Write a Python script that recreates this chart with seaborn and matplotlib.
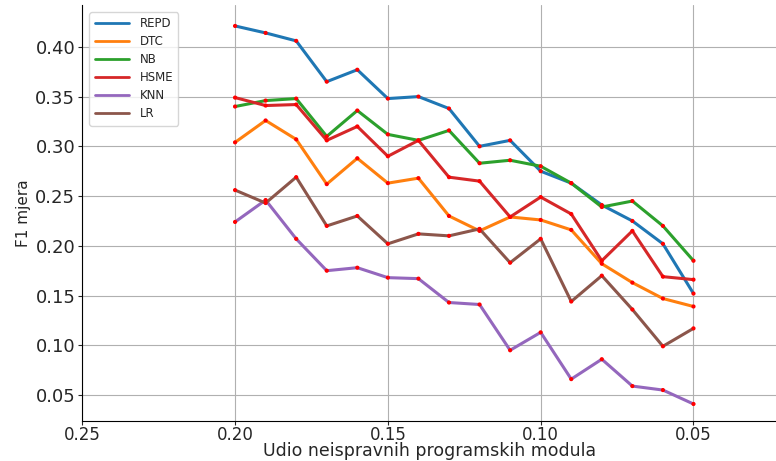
import numpy as np
import pandas as pd
import seaborn as sns
import matplotlib
matplotlib.use('Agg')
import matplotlib.pyplot as plt

# udio neispravnih modula (x os ide od vece prema manjoj vrijednosti)
UDIO = [0.20, 0.19, 0.18, 0.17, 0.16, 0.15, 0.14, 0.13, 0.12, 0.11,
        0.10, 0.09, 0.08, 0.07, 0.06, 0.05]

REPD = [0.421, 0.414, 0.406, 0.365, 0.377, 0.348, 0.350, 0.338, 0.300, 0.306,
        0.275, 0.263, 0.241, 0.225, 0.202, 0.152]
DTC = [0.304, 0.326, 0.307, 0.262, 0.288, 0.263, 0.268, 0.230, 0.215, 0.229,
       0.226, 0.216, 0.182, 0.163, 0.147, 0.139]
NB = [0.340, 0.346, 0.348, 0.310, 0.336, 0.312, 0.306, 0.316, 0.283, 0.286,
      0.280, 0.263, 0.239, 0.245, 0.220, 0.185]
HSME = [0.349, 0.341, 0.342, 0.306, 0.320, 0.290, 0.306, 0.269, 0.265, 0.229,
        0.249, 0.232, 0.185, 0.215, 0.169, 0.166]
KNN = [0.224, 0.246, 0.207, 0.175, 0.178, 0.168, 0.167, 0.143, 0.141, 0.095,
       0.113, 0.066, 0.086, 0.059, 0.055, 0.041]
LR = [0.256, 0.243, 0.269, 0.220, 0.230, 0.202, 0.212, 0.210, 0.217, 0.183,
      0.207, 0.144, 0.170, 0.136, 0.099, 0.117]

MODELI = ['REPD', 'DTC', 'NB', 'HSME', 'KNN', 'LR']
VRIJEDNOSTI = [REPD, DTC, NB, HSME, KNN, LR]

# long format za seaborn
DATA = pd.DataFrame({
    'udio': UDIO * len(MODELI),
    'f1': np.concatenate(VRIJEDNOSTI),
    'model': np.repeat(MODELI, len(UDIO)),
})

sns.set_style('ticks')
plt.rcParams['font.family'] = ['DejaVu Sans']

fig = plt.figure(figsize=(7.76, 4.61), dpi=100)
AX = fig.add_axes([0.106, 0.087, 0.894, 0.902])

sns.lineplot(data=DATA, x='udio', y='f1', hue='model', hue_order=MODELI,
             palette='tab10', linewidth=2.2, ax=AX)
# crvene tocke na svakom mjerenju
sns.scatterplot(data=DATA, x='udio', y='f1', color='red', s=9,
                edgecolor='none', legend=False, ax=AX, zorder=3)

AX.set_xlim(0.25, 0.023)
AX.set_ylim(0.024, 0.442)
AX.set_xticks([0.25, 0.20, 0.15, 0.10, 0.05])
AX.set_yticks([0.05, 0.10, 0.15, 0.20, 0.25, 0.30, 0.35, 0.40])
AX.set_xticklabels(['0.25', '0.20', '0.15', '0.10', '0.05'])
AX.tick_params(axis='y', labelsize=13, length=3, pad=2)
AX.tick_params(axis='x', labelsize=12, length=3, pad=0.5)
AX.grid(True, color='#b0b0b0', linewidth=0.8)
AX.set_axisbelow(True)
for s in ['top', 'right']:
    AX.spines[s].set_visible(False)
AX.spines['left'].set_color('black')
AX.spines['bottom'].set_color('black')

AX.set_xlabel('Udio neispravnih programskih modula', fontsize=12.5, labelpad=-1)
AX.set_ylabel('F1 mjera', fontsize=11, labelpad=3)

LEG = AX.legend(loc='upper left', fontsize=8.5, handlelength=2.9,
                frameon=True, borderpad=0.45, labelspacing=0.42,
                handletextpad=0.9, borderaxespad=0.6)
LEG.get_frame().set_edgecolor('#cccccc')
for line in LEG.get_lines():
    line.set_linewidth(2)

fig.savefig('out.png', dpi=100)
